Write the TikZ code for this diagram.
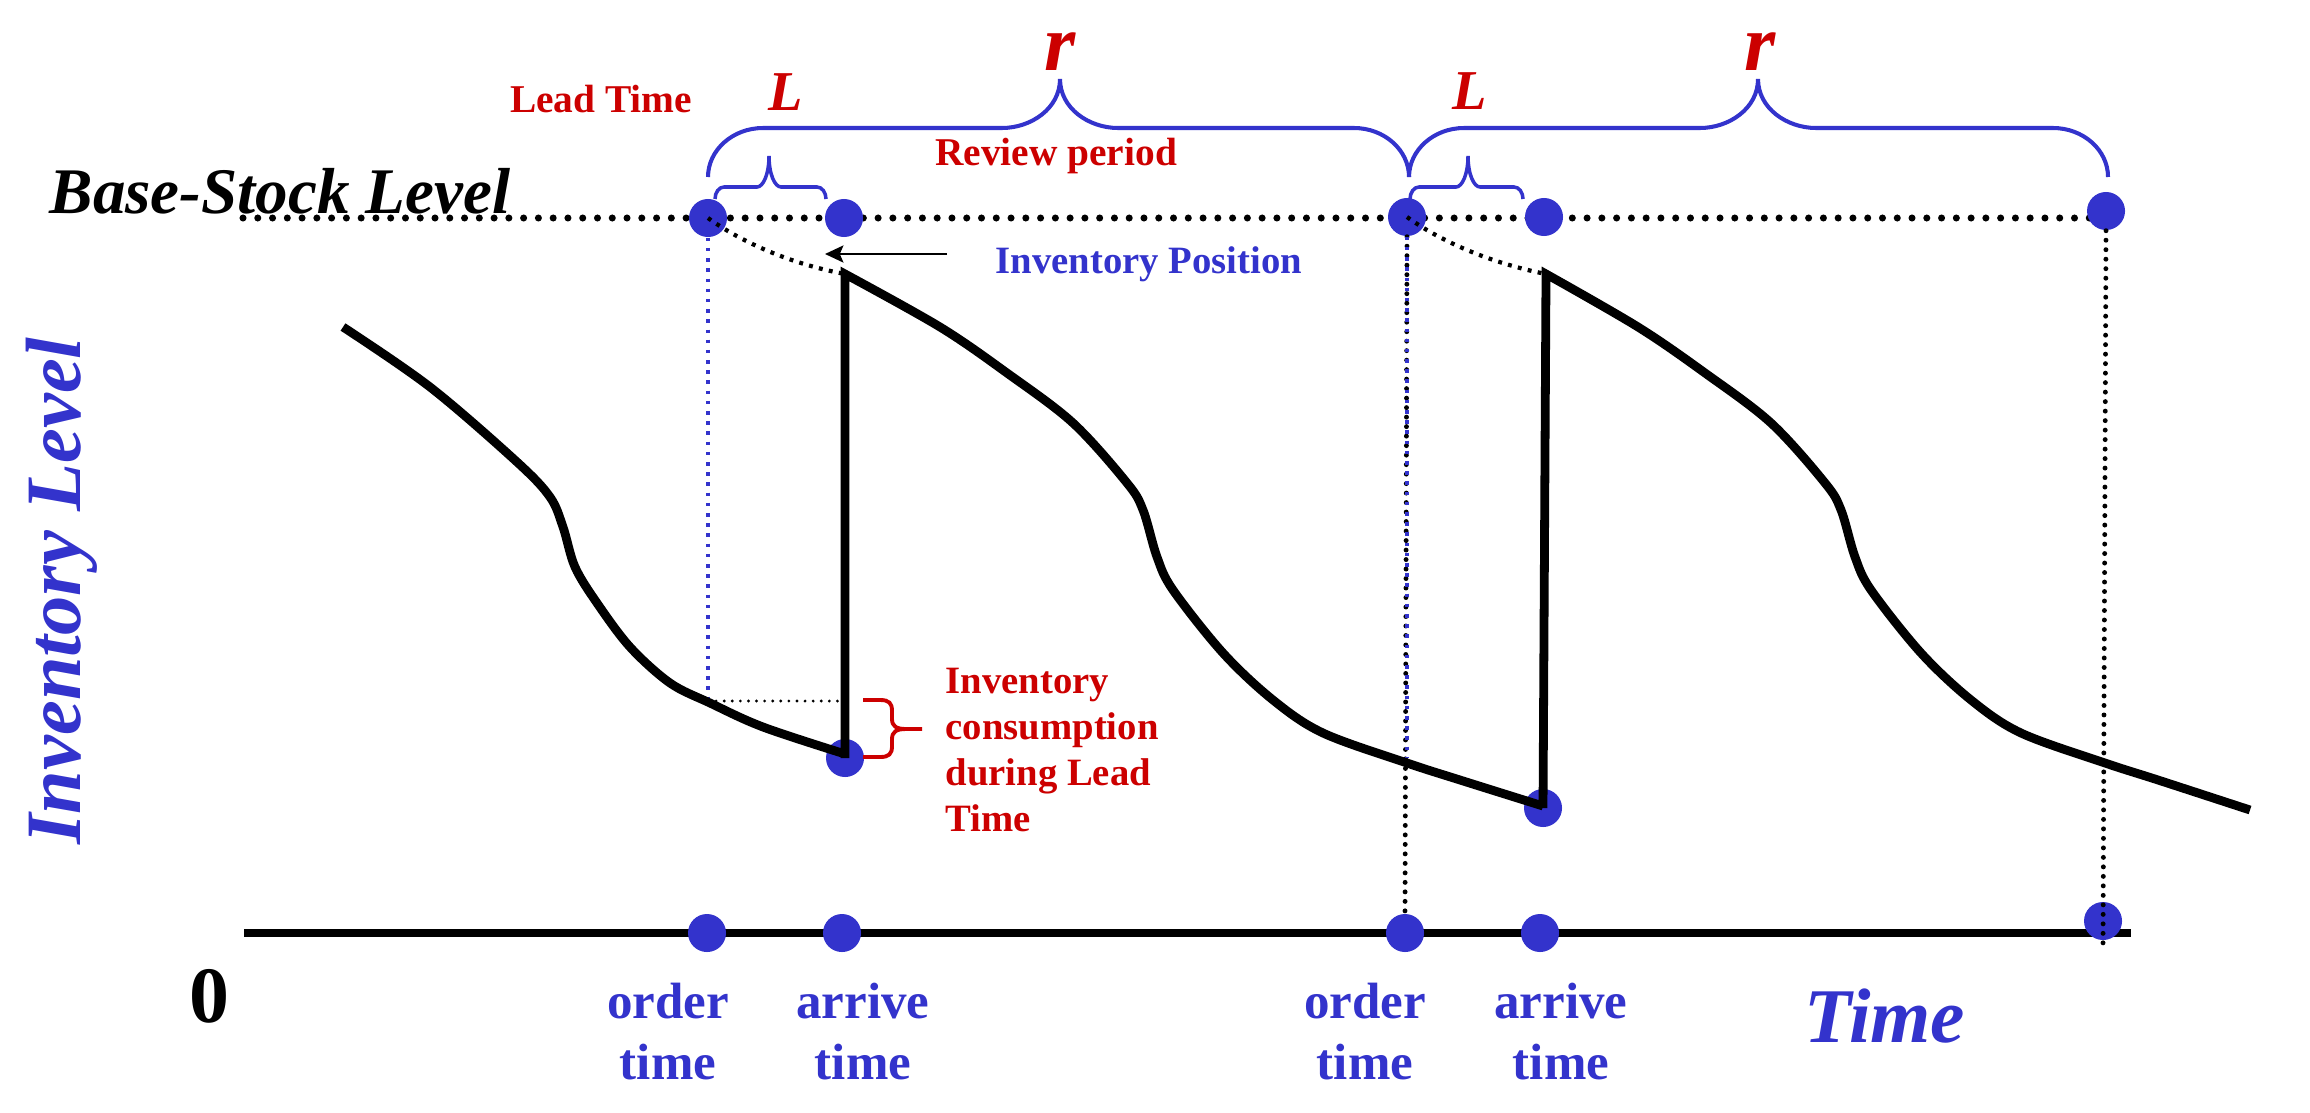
\documentclass[tikz,border=0pt]{standalone}
\usepackage{fontspec}
\setmainfont{Liberation Serif}
\usetikzlibrary{arrows.meta}
\definecolor{pblue}{RGB}{51,51,204}
\definecolor{pred}{RGB}{204,0,0}
\newcommand\fsz[2]{\fontsize{#1}{#2}\selectfont}
% #1 options, #2 x1, #3 x2, #4 xm, #5 y0, #6 yh, #7 ytip, #8 r, #9 t
\newcommand\curlybr[9]{%
 \draw[#1] (#2,#5) .. controls (#2,{#6+0.45*(#5-#6)}) and ({#2+0.45*#8},#6) .. ({#2+#8},#6)
 -- ({#4-#9},#6) .. controls ({#4-0.5*#9},#6) and (#4,{#6-0.4*(#6-#7)}) .. (#4,#7)
 .. controls (#4,{#6-0.4*(#6-#7)}) and ({#4+0.5*#9},#6) .. ({#4+#9},#6)
 -- ({#3-#8},#6) .. controls ({#3-0.45*#8},#6) and (#3,{#6+0.45*(#5-#6)}) .. (#3,#5);}
\begin{document}
\begin{tikzpicture}[x=0.01cm,y=-0.01cm,
  dot/.style={circle,fill=pblue,inner sep=0pt,minimum size=0.38cm},
  lbl/.style={inner sep=0pt},
  bsline/.style={line width=2pt,dash pattern=on 0pt off 4.2pt,line cap=round},
  vdot/.style={line width=1.4pt,dash pattern=on 0pt off 2.7pt,line cap=round},
  ipdot/.style={line width=1.2pt,dash pattern=on 1.1pt off 1.8pt},
  bluedot/.style={pblue,line width=1.2pt,dash pattern=on 1pt off 1.9pt},
  hzdot/.style={line width=0.9pt,dash pattern=on 0pt off 2.3pt,line cap=round},
  invcurve/.style={line width=2.5pt,line join=miter},
  axisline/.style={line width=2.1pt},
  bigbr/.style={pblue,line width=1.15pt},
  smallbr/.style={pblue,line width=1pt},
  redbr/.style={pred,line width=1.1pt}]
\useasboundingbox (0,0) rectangle (2310,1112);

% coordinates
\coordinate (T1) at (708,218);
\coordinate (T2) at (844,218);
\coordinate (T3) at (1407,217);
\coordinate (T4) at (1544,217);
\coordinate (T5) at (2106,211);
\coordinate (B1) at (707,933);
\coordinate (B2) at (842,933);
\coordinate (B3) at (1405,933);
\coordinate (B4) at (1540,933);
\coordinate (B5) at (2103,921);
\coordinate (M1) at (845,758);
\coordinate (M2) at (1543,808);
\coordinate (peak1) at (845,274);
\coordinate (peak2) at (1546,274);
\coordinate (ax0) at (244,933);
\coordinate (ax1) at (2131,933);
\coordinate (bs0) at (243,218);
\coordinate (bs1) at (2106,218);
\coordinate (cross1) at (708,701);
\coordinate (hz1) at (845,701);
\coordinate (cross2) at (1407,758);
\coordinate (B5end) at (2103,943);
\coordinate (arrS) at (947,254);
\coordinate (arrE) at (825,254);

% base-stock level line and time axis
\draw[bsline] (bs0) -- (bs1);
\draw[axisline] (ax0) -- (ax1);

% braces
\curlybr{bigbr}{708}{1409}{1060}{177}{128}{79}{55}{58}
\curlybr{bigbr}{1409}{2108}{1758}{177}{128}{79}{55}{58}
\curlybr{smallbr}{715}{826}{769}{199}{187}{156}{9}{12}
\curlybr{smallbr}{1410}{1523}{1468}{199}{187}{156}{9}{12}

% dots
\foreach \p in {T1,T2,T3,T4,T5,B1,B2,B3,B4,B5,M1,M2}
  \node[dot] (d\p) at (\p) {};

% dotted guide lines
\draw[vdot] (dT3.south) -- (dB3.north);
\draw[bluedot] (dT1.south) -- (cross1);
\draw[bluedot] (dT3.south) -- (cross2);
\draw[vdot] (dT5.south) -- (B5end);
\draw[hzdot] (cross1) -- (hz1);
\draw[ipdot] (T1) .. controls (741,242) and (791,264) .. (peak1);
\draw[ipdot] (T3) .. controls (1440,241) and (1490,263) .. (peak2);

% inventory level curve
\draw[invcurve] plot[smooth,tension=0.55] coordinates {(343,327) (430,387) (517,462) (550,497) (563,527) (575,567) (597,603) (630,647) (670,683) (710,703) (763,727) (845,754)}
  -- (M1) -- (peak1)
  -- plot[smooth,tension=0.55] coordinates {(845,274) (940,327) (1007,373) (1073,423) (1127,483) (1143,510) (1157,557) (1173,590) (1223,653) (1273,700) (1323,733) (1407,763) (1460,780) (1543,806)}
  -- (M2) -- (peak2)
  -- plot[smooth,tension=0.55] coordinates {(1546,274) (1638,327) (1705,373) (1771,423) (1825,483) (1841,510) (1855,557) (1871,590) (1921,653) (1971,700) (2021,733) (2105,763) (2158,780) (2250,810)};

% red brace
\draw[redbr] (863,700) -- (880,700) .. controls (889,700) and (892,703) .. (892,711) -- (892,719) .. controls (892,726) and (896,729) .. (906,729) -- (922,729);
\draw[redbr] (863,757) -- (880,757) .. controls (889,757) and (892,754) .. (892,746) -- (892,739) .. controls (892,732) and (896,729) .. (906,729);

% arrow to inventory position
\draw[line width=0.85pt,-{Stealth[length=5.2pt,width=4.8pt,inset=1pt]}] (arrS) -- (arrE);

% texts
\node[lbl,anchor=base,font=\bfseries\itshape\fsz{18.5}{22}] (bsl) at (280,213) {Base-Stock Level};
\node[lbl,anchor=base,text=pred,font=\bfseries\fsz{11.2}{13}] (lead) at (601,112) {Lead Time};
\node[lbl,anchor=base,text=pred,font=\bfseries\itshape\fsz{16}{19}] (L1) at (786,110) {L};
\node[lbl,anchor=base,text=pred,font=\bfseries\itshape\fsz{16}{19}] (L2) at (1470,109) {L};
\node[lbl,anchor=base,text=pred,font=\bfseries\itshape\fsz{22.8}{27}] (r1) at (1060,70) {r};
\node[lbl,anchor=base,text=pred,font=\bfseries\itshape\fsz{22.8}{27}] (r2) at (1760,70) {r};
\node[lbl,anchor=base,text=pred,font=\bfseries\fsz{11.2}{13}] (rev) at (1056,165) {Review period};
\node[lbl,anchor=base,text=pblue,font=\bfseries\fsz{11}{13}] (ip) at (1149,273) {Inventory Position};
\node[lbl,anchor=north west,align=left,text=pred,font=\bfseries\fsz{11}{13.1}] (cons) at (945,667) {Inventory\\consumption\\during Lead\\Time};
\node[lbl,rotate=90,anchor=base,text=pblue,font=\bfseries\itshape\fsz{22.3}{26}] (invlev) at (80,591) {Inventory Level};
\node[lbl,anchor=base,font=\bfseries\fsz{22.7}{27}] (zero) at (209,1022) {0};
\node[lbl,anchor=base,text=pblue,font=\bfseries\itshape\fsz{22}{26}] (time) at (1885,1042) {Time};
\node[lbl,anchor=north,align=center,text=pblue,font=\bfseries\fsz{14.5}{17.4}] (ot1) at (668,982) {order\\time};
\node[lbl,anchor=north,align=center,text=pblue,font=\bfseries\fsz{14.5}{17.4}] (at1) at (863,982) {arrive\\time};
\node[lbl,anchor=north,align=center,text=pblue,font=\bfseries\fsz{14.5}{17.4}] (ot2) at (1365,982) {order\\time};
\node[lbl,anchor=north,align=center,text=pblue,font=\bfseries\fsz{14.5}{17.4}] (at2) at (1561,982) {arrive\\time};
\end{tikzpicture}
\end{document}
